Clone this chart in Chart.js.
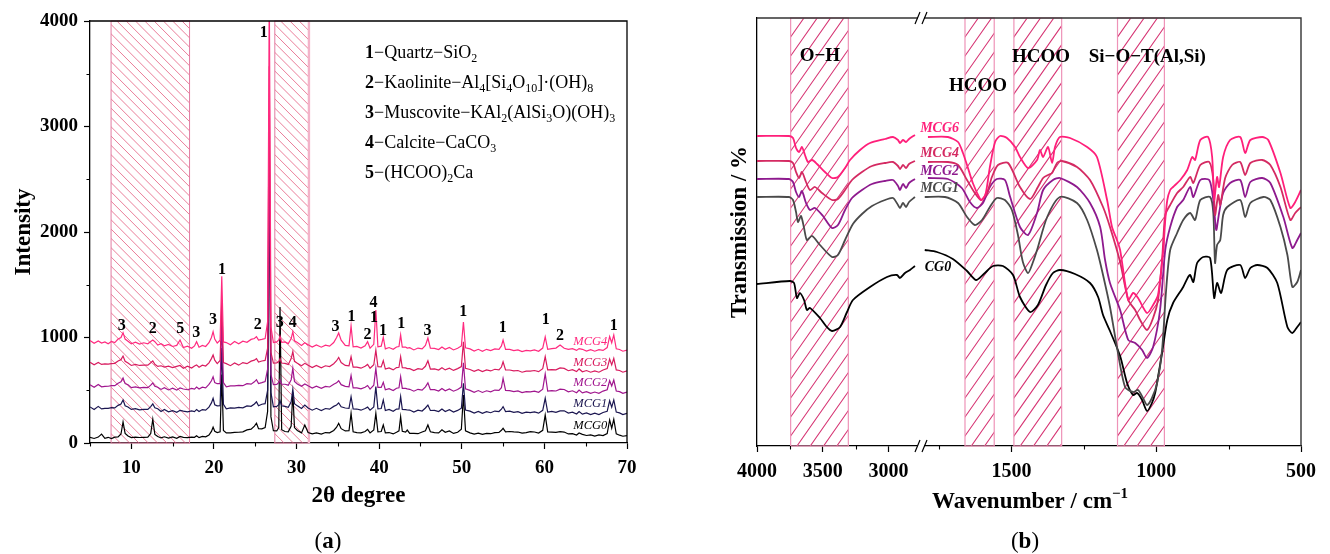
<!DOCTYPE html>
<html><head><meta charset="utf-8">
<script src="https://cdn.jsdelivr.net/npm/chart.js@4.4.1/dist/chart.umd.min.js"></script>
<style>
html,body{margin:0;padding:0;background:#fff;}
body{width:1330px;height:554px;overflow:hidden;position:relative;}
#ca{position:absolute;left:0;top:0;}
#cb{position:absolute;left:660px;top:0;}
</style></head>
<body>
<canvas id="ca" width="660" height="554"></canvas>
<canvas id="cb" width="670" height="554"></canvas>
<script>
// ---------------- (a) XRD data ----------------
const twoTheta = [
 5.0,5.5,6.0,6.4,6.8,7.2,7.6,8.0,8.4,8.75,9.0,9.25,9.6,10.0,
 10.5,11.0,11.5,12.0,12.35,12.6,12.85,13.2,13.6,14.0,14.5,15.0,
 15.5,15.9,16.3,16.8,17.3,17.65,17.9,18.2,18.6,19.0,19.4,19.7,19.9,20.1,
 20.4,20.75,20.95,21.15,21.5,22.0,22.5,23.0,23.5,24.0,24.5,24.9,25.15,25.4,
 25.8,26.2,26.5,26.7,26.9,27.2,27.6,27.85,28.0,28.2,28.6,29.0,29.35,29.55,29.75,30.1,
 30.6,31.0,31.4,31.9,32.4,33.0,33.5,34.0,34.5,34.85,35.1,35.4,
 35.9,36.35,36.6,36.85,37.3,37.8,38.3,38.6,38.9,39.35,39.6,39.85,40.25,40.5,40.75,
 41.2,41.7,42.1,42.4,42.6,42.8,43.2,43.4,43.7,44.2,44.7,45.2,45.6,45.9,46.2,
 46.7,47.2,47.6,48.0,48.5,49.0,49.5,49.95,50.2,50.45,51.0,51.5,52.0,52.5,53.0,53.5,54.0,54.5,54.8,55.0,55.3,
 55.8,56.3,56.8,57.3,57.8,58.3,58.8,59.3,59.8,60.1,60.4,60.9,61.4,61.9,62.4,
 62.9,63.4,63.9,64.2,64.6,65.1,65.6,66.1,66.6,67.1,67.6,67.9,68.15,68.4,68.7,69.1,69.5,70.0];
const mcg0 = [
 54,43,56,85,45,54,42,56,57,85,200,91,66,51,
 56,52,54,56,90,225,81,62,48,59,46,57,
 44,62,54,51,56,54,68,51,62,58,75,110,150,111,
 99,106,650,119,96,96,101,102,106,124,131,160,187,136,
 134,146,300,2860,250,116,114,146,1290,126,109,106,160,480,146,119,
 96,170,99,86,96,84,99,96,119,150,187,136,
 114,116,281,106,99,96,109,130,96,124,281,106,109,171,96,
 99,86,102,116,249,111,104,123,91,92,88,104,116,171,106,
 99,96,125,101,114,91,102,130,455,116,96,84,94,82,92,88,99,101,120,139,106,
 109,106,104,94,99,108,104,94,120,265,106,104,101,107,104,
 86,89,76,95,82,71,76,66,76,71,90,218,140,225,86,74,64,70];
const mcg1 = [
 342,318,347,323,329,328,335,333,357,370,408,353,342,318,
 325,315,319,318,345,370,333,325,298,317,295,307,
 291,310,302,295,305,298,318,298,317,311,340,380,424,363,
 352,353,900,367,323,332,331,337,333,352,348,370,390,353,
 367,373,500,2520,480,343,347,363,400,353,347,338,390,510,373,352,
 328,360,332,311,329,308,327,321,347,360,380,343,
 332,328,439,323,322,311,327,340,311,342,534,323,327,408,308,
 319,301,322,323,439,318,317,313,312,293,311,303,332,360,308,
 309,298,322,298,315,293,309,330,566,313,302,283,299,281,297,287,303,298,320,345,298,
 302,291,297,281,292,288,295,283,310,424,293,299,291,305,305,
 283,292,275,299,273,285,269,282,270,289,300,400,340,408,293,285,269,281];
const mcg2 = [
 552,528,555,533,537,538,543,543,567,580,616,563,552,525,
 532,523,527,525,548,569,538,529,508,525,503,519,
 501,522,512,505,517,511,530,511,529,523,555,590,628,573,
 562,563,1150,572,533,542,541,547,543,562,558,580,600,563,
 572,583,700,3000,650,553,555,573,600,558,557,548,600,708,583,559,
 538,560,542,521,539,518,537,531,557,570,590,553,
 537,533,640,523,522,513,529,545,511,547,708,528,527,575,505,
 515,498,519,523,629,518,517,513,509,491,509,501,532,570,505,
 505,493,517,495,512,491,507,530,760,513,499,481,497,479,495,485,502,498,525,613,498,
 497,487,493,477,487,485,492,481,510,654,493,497,493,510,507,
 485,495,477,502,475,487,471,483,471,492,505,590,540,597,493,487,471,483];
const mcg3 = [
 766,742,763,745,750,748,752,755,778,790,824,775,758,735,
 745,735,738,738,760,777,746,726,732,720,728,715,
 726,735,708,728,710,730,740,718,737,730,760,800,834,785,
 752,782,1350,762,752,733,758,738,762,752,776,785,800,768,
 777,783,900,3570,860,758,760,772,800,758,755,745,800,866,773,755,
 733,755,737,715,735,713,732,725,752,780,810,763,
 735,731,818,720,719,709,727,745,708,742,881,723,722,780,701,
 712,693,715,718,818,713,712,705,705,687,705,698,727,780,701,
 702,691,714,693,709,688,705,725,960,708,697,679,695,677,693,683,699,693,720,770,693,
 692,683,687,671,682,681,687,676,705,818,693,695,693,712,707,
 685,695,677,702,675,687,671,683,671,692,705,795,740,803,693,687,671,683];
const mcg4 = [
 972,945,968,948,958,940,962,952,985,1000,1046,985,965,940,
 955,938,950,940,962,976,960,928,942,922,935,915,
 925,976,905,918,898,920,960,908,925,915,950,1000,1055,985,
 948,975,1580,958,952,932,962,940,965,955,982,990,1008,975,
 982,990,1150,4300,1100,952,958,978,1014,955,958,942,990,1055,968,952,
 925,950,932,910,930,908,928,918,952,1000,1043,975,
 925,922,1109,912,915,900,922,960,898,935,1260,912,918,1002,892,
 905,888,910,915,1024,908,910,900,903,882,900,892,925,995,898,
 897,886,910,888,905,882,898,920,1147,902,892,872,888,870,888,876,892,888,920,976,888,
 887,876,882,866,878,874,882,870,900,1005,888,895,900,929,898,
 888,895,878,895,888,872,885,870,884,878,905,1010,950,1024,893,886,870,880];
const xrdNames = ['MCG4','MCG3','MCG2','MCG1','MCG0'];
const xrdValues = [mcg4, mcg3, mcg2, mcg1, mcg0];
const xrdColors = ['#ff2a7f','#d81b5f','#a0168e','#1b1650','#000000'];
const xrdNameX = 63.5;
const xrdNameY = [960, 761, 569, 370, 164];
const xTicksA = [5,10,15,20,25,30,35,40,45,50,55,60,65,70];
const xMajorA = [10,20,30,40,50,60,70];
const yTicksA = [0,500,1000,1500,2000,2500,3000,3500,4000];
const yMajorA = [0,1000,2000,3000,4000];
const xrdBands = [[7.55,17.05],[27.37,31.5]];
const peakLabelX = [8.85,12.61,15.92,17.86,19.89,20.98,25.3,26.03,27.97,29.55,34.73,36.64,38.58,39.31,39.38,40.47,42.66,45.86,50.18,54.96,60.18,61.88,68.39];
const peakLabelY = [1109,1078,1078,1040,1166,1640,1118,3883,1135,1135,1097,1197,1024,1324,1182,1064,1128,1062,1245,1087,1166,1017,1109];
const peakLabelText = ['3','2','5','3','3','1','2','1','3','4','3','1','2','4','1','1','1','3','1','1','1','2','1'];
const phaseLegend = [
 [['1','B'],['−Quartz−SiO','N'],['2','D']],
 [['2','B'],['−Kaolinite−Al','N'],['4','D'],['[Si','N'],['4','D'],['O','N'],['10','D'],[']·(OH)','N'],['8','D']],
 [['3','B'],['−Muscovite−KAl','N'],['2','D'],['(AlSi','N'],['3','D'],['O)(OH)','N'],['3','D']],
 [['4','B'],['−Calcite−CaCO','N'],['3','D']],
 [['5','B'],['−(HCOO)','N'],['2','D'],['Ca','N']]
];

// ---------------- (b) FTIR data (wavenumber, transmission a.u.) ----------------
const mcg6High = [[4000,310],[3756,310],[3726,308],[3703,298],[3680,294],[3658,299],[3635,291],[3612,284],[3581,286],[3543,282],[3483,274],[3429,268],[3384,269],[3330,278],[3292,286],[3216,296],[3140,303],[3026,307],[2965,309],[2927,306],[2912,303],[2889,306],[2866,304],[2843,307],[2798,311]];
const mcg6Low = [[1789,309],[1720,309],[1685,304],[1668,293],[1654,281],[1634,263],[1609,247],[1602,246],[1589,253],[1575,279],[1557,304],[1540,310],[1516,308],[1488,299],[1471,289],[1443,278],[1412,286],[1402,296],[1391,289],[1374,299],[1360,283],[1350,299],[1333,309],[1298,308],[1239,299],[1205,289],[1170,246],[1153,219],[1136,206],[1125,196],[1097,146],[1080,153],[1063,148],[1032,133],[1011,141],[994,151],[976,196],[969,226],[962,246],[952,256],[942,259],[917,266],[893,276],[876,289],[866,286],[848,306],[821,309],[807,289],[800,246],[790,269],[783,259],[769,289],[745,306],[710,309],[693,293],[675,306],[634,309],[613,306],[571,273],[537,238],[520,244],[500,256]];
const mcg4High = [[4000,285],[3756,285],[3726,283],[3703,274],[3680,268],[3658,274],[3627,264],[3597,256],[3559,259],[3505,253],[3429,246],[3384,247],[3330,256],[3277,266],[3201,274],[3125,280],[3026,283],[2965,284],[2927,280],[2912,277],[2889,281],[2866,278],[2843,282],[2798,285]];
const mcg4Low = [[1789,284],[1720,284],[1685,281],[1654,266],[1627,253],[1606,246],[1585,253],[1568,269],[1547,281],[1512,283],[1471,259],[1436,247],[1409,259],[1391,268],[1374,271],[1360,273],[1343,283],[1326,285],[1274,279],[1229,266],[1184,239],[1160,219],[1125,184],[1097,146],[1073,136],[1056,126],[1032,116],[1011,128],[994,146],[980,186],[969,231],[952,241],[928,253],[907,259],[883,269],[872,263],[848,281],[817,284],[803,266],[797,231],[786,251],[779,241],[762,268],[738,281],[710,284],[693,271],[675,283],[634,286],[606,281],[571,259],[537,226],[520,233],[500,239]];
const mcg2High = [[4000,267],[3756,267],[3726,264],[3703,254],[3680,249],[3658,255],[3627,243],[3597,236],[3559,238],[3498,230],[3429,218],[3384,221],[3330,236],[3277,248],[3201,256],[3125,262],[3026,265],[2965,266],[2927,260],[2912,256],[2889,262],[2866,258],[2843,263],[2798,267]];
const mcg2Low = [[1789,268],[1720,267],[1672,258],[1644,244],[1620,238],[1599,243],[1575,259],[1551,267],[1523,266],[1506,250],[1471,219],[1443,211],[1412,233],[1391,256],[1357,266],[1333,268],[1274,259],[1229,243],[1194,219],[1177,186],[1160,163],[1125,136],[1097,106],[1073,103],[1049,96],[1032,88],[1011,99],[987,136],[969,196],[952,219],[928,239],[907,246],[883,259],[872,249],[848,266],[817,266],[803,246],[793,216],[783,233],[769,253],[745,263],[710,266],[693,249],[675,264],[634,268],[606,263],[561,229],[530,198],[513,206],[500,213]];
const mcg1High = [[4000,249],[3756,249],[3726,246],[3703,234],[3688,224],[3665,230],[3642,218],[3620,206],[3581,210],[3521,201],[3429,189],[3384,191],[3330,206],[3270,222],[3201,232],[3125,240],[3026,246],[2965,248],[2927,241],[2912,238],[2889,243],[2866,239],[2843,244],[2798,249]];
const mcg1Low = [[1800,249],[1730,249],[1685,243],[1654,229],[1627,221],[1602,226],[1575,239],[1551,248],[1523,246],[1499,236],[1478,211],[1461,184],[1443,173],[1426,184],[1412,196],[1377,229],[1333,249],[1274,243],[1239,226],[1205,196],[1184,171],[1160,139],[1136,99],[1108,59],[1080,54],[1063,56],[1046,48],[1032,41],[1015,48],[997,63],[980,96],[966,156],[952,196],[928,213],[907,226],[883,233],[866,226],[848,246],[814,249],[803,233],[797,183],[790,201],[779,206],[769,231],[755,239],[710,246],[693,229],[675,243],[630,249],[606,246],[571,219],[547,191],[530,159],[513,164],[500,176]];
const cg0High = [[4000,162],[3749,165],[3718,163],[3696,148],[3673,153],[3642,146],[3620,136],[3597,138],[3521,128],[3475,120],[3429,115],[3368,119],[3315,134],[3270,146],[3140,159],[3011,169],[2935,171],[2912,168],[2874,173],[2836,176],[2798,180]];
const cg0Low = [[1800,196],[1758,194],[1703,187],[1654,175],[1623,166],[1596,172],[1564,180],[1530,180],[1495,171],[1471,149],[1436,134],[1409,141],[1381,161],[1357,173],[1333,176],[1281,172],[1229,163],[1201,149],[1184,131],[1160,115],[1125,90],[1101,63],[1080,51],[1066,53],[1049,46],[1032,35],[1015,43],[1004,53],[994,69],[980,93],[962,126],[942,143],[907,159],[890,169],[883,171],[872,164],[859,183],[838,189],[814,188],[800,148],[790,163],[776,153],[755,176],[710,181],[693,168],[675,178],[651,181],[616,178],[582,163],[547,119],[530,113],[513,119],[500,124]];
const ftirNames = ['MCG6','MCG4','MCG2','MCG1','CG0'];
const ftirHigh = [mcg6High, mcg4High, mcg2High, mcg1High, cg0High];
const ftirLow = [mcg6Low, mcg4Low, mcg2Low, mcg1Low, cg0Low];
const ftirColors = ['#ff1f7a','#d42a62','#8e1a8e','#4a4a4a','#000000'];
const ftirNameX = [1816,1816,1816,1816,1800];
const ftirNameY = [318,293,275,258,179];
const xTicksHigh = [4000,3750,3500,3250,3000];
const xTicksLow = [1750,1500,1250,1000,750,500];
const xMajorB = [4000,3500,3000,1500,1000,500];
const bandsHigh = [[3744,3305]];
const bandsLow = [[1661,1560],[1492,1327],[1134,972]];
const bandLabelText = ['O−H','HCOO','HCOO','Si−O−T(Al,Si)'];
const bandLabelAxis = ['xa','xb','xb','xb'];
const bandLabelX = [3521,1616,1398,1031];
const bandLabelY = [390,360,389,389];

// ---------------- helpers ----------------
const FAM = "'Liberation Serif','Times New Roman',serif";
Chart.defaults.font.family = FAM;
Chart.defaults.color = '#000';

function rich(ctx, x, y, parts, size, align, color){
  const f = k => (k.includes('I')?'italic ':'') + (k.includes('B')?'bold ':'') +
    ((k.includes('D')||k.includes('U')) ? Math.round(size*0.64) : size) + 'px ' + FAM;
  let w = 0;
  for (const [t,k] of parts){ ctx.font = f(k); w += ctx.measureText(t).width; }
  let cx = align==='center' ? x - w/2 : (align==='right' ? x - w : x);
  ctx.fillStyle = color || '#000'; ctx.textAlign = 'left'; ctx.textBaseline = 'alphabetic';
  for (const [t,k] of parts){
    ctx.font = f(k);
    const dy = k.includes('D') ? size*0.24 : (k.includes('U') ? -size*0.42 : 0);
    ctx.fillText(t, cx, y + dy);
    cx += ctx.measureText(t).width;
  }
}
function hatch(ctx, x0, x1, y0, y1, step, dir, k, color, lw){
  const h = y1 - y0, span = h * k;
  ctx.save(); ctx.beginPath(); ctx.rect(x0, y0, x1 - x0, y1 - y0); ctx.clip();
  ctx.strokeStyle = color; ctx.lineWidth = lw; ctx.beginPath();
  for (let s = x0 - span - step; s <= x1 + step; s += step){
    if (dir < 0){ ctx.moveTo(s, y0); ctx.lineTo(s + span, y1); }
    else { ctx.moveTo(s, y1); ctx.lineTo(s + span, y0); }
  }
  ctx.stroke(); ctx.restore();
}
function minorTicks(ctx, scale, values, horizontal, len){
  ctx.save(); ctx.strokeStyle = '#000'; ctx.lineWidth = 1.1; ctx.beginPath();
  for (const v of values){
    const p = Math.round(scale.getPixelForValue(v)) + 0.5;
    if (horizontal){ ctx.moveTo(p, scale.top); ctx.lineTo(p, scale.top + len); }
    else { ctx.moveTo(scale.right, p); ctx.lineTo(scale.right - len, p); }
  }
  ctx.stroke(); ctx.restore();
}

// ---------------- chart (a) ----------------
const plugA = {
  id: 'plugA',
  beforeDatasetsDraw(chart){
    const {ctx, chartArea: a, scales: {x}} = chart;
    xrdBands.forEach(([b0, b1], i) => {
      const x0 = x.getPixelForValue(b0), x1 = x.getPixelForValue(b1);
      hatch(ctx, x0, x1, a.top, a.bottom, 9.3, -1, 1, 'rgba(222,50,95,0.8)', 0.8);
      ctx.save(); ctx.strokeStyle = '#e27ca2'; ctx.lineWidth = 1;
      ctx.strokeRect(x0, a.top, x1 - x0, a.bottom - a.top);
      if (i === 1){ ctx.strokeStyle = '#f3b3c9'; ctx.lineWidth = 2.4; ctx.beginPath(); ctx.moveTo(x1, a.top); ctx.lineTo(x1, a.bottom); ctx.stroke(); }
      ctx.restore();
    });
  },
  afterDraw(chart){
    const {ctx, chartArea: a, scales: {x, y}} = chart;
    ctx.save();
    ctx.strokeStyle = '#000'; ctx.lineWidth = 1.3; ctx.beginPath();
    ctx.moveTo(a.left, a.top); ctx.lineTo(a.right, a.top); ctx.lineTo(a.right, a.bottom); ctx.stroke();
    minorTicks(ctx, x, xTicksA.filter(v => !xMajorA.includes(v)), true, 3.5);
    minorTicks(ctx, y, yTicksA.filter(v => !yMajorA.includes(v)), false, 3.5);
    ctx.font = 'bold 16px ' + FAM; ctx.fillStyle = '#000'; ctx.textAlign = 'center'; ctx.textBaseline = 'middle';
    peakLabelText.forEach((t, i) => ctx.fillText(t, x.getPixelForValue(peakLabelX[i]), y.getPixelForValue(peakLabelY[i])));
    ctx.font = 'italic 12.5px ' + FAM; ctx.textAlign = 'left';
    xrdNames.forEach((n, i) => { ctx.fillStyle = xrdColors[i]; ctx.fillText(n, x.getPixelForValue(xrdNameX), y.getPixelForValue(xrdNameY[i])); });
    phaseLegend.forEach((parts, i) => rich(ctx, 365, 58 + i * 30, parts, 18, 'left', '#000'));
    ctx.fillStyle = '#000'; ctx.textAlign = 'center'; ctx.textBaseline = 'middle';
    ctx.font = 'bold 23px ' + FAM; ctx.fillText('2θ degree', (a.left + a.right) / 2, 496);
    ctx.save(); ctx.translate(24, (a.top + a.bottom) / 2); ctx.rotate(-Math.PI / 2);
    ctx.fillText('Intensity', 0, 0); ctx.restore();
    rich(ctx, 328, 548, [['(','N'],['a','B'],[')','N']], 23, 'center', '#000');
    ctx.restore();
  }
};

new Chart(document.getElementById('ca'), {
  type: 'line',
  data: { datasets: xrdNames.map((n, i) => ({
    label: n, data: twoTheta.map((t, j) => ({x: t, y: xrdValues[i][j]})),
    borderColor: xrdColors[i], borderWidth: 1.2, pointRadius: 0, tension: 0, fill: false })) },
  options: {
    responsive: false, animation: false, devicePixelRatio: 1,
    layout: { padding: { left: 0, top: 21, right: 33, bottom: 61 } },
    plugins: { legend: { display: false }, tooltip: { enabled: false } },
    scales: {
      x: { type: 'linear', min: 5, max: 70,
        afterBuildTicks: s => { s.ticks = xTicksA.map(v => ({value: v})); },
        afterFit: s => { s.height = 50; },
        ticks: { autoSkip: false, maxRotation: 0, padding: 8, color: '#000', font: { size: 19, weight: 'bold' },
          callback: v => xMajorA.includes(v) ? String(v) : '' },
        grid: { drawOnChartArea: false, drawTicks: true, tickLength: 6, tickWidth: 1.2,
          tickColor: c => (c.tick && xMajorA.includes(c.tick.value)) ? '#000' : 'rgba(0,0,0,0)' },
        border: { display: true, color: '#000', width: 1.3 } },
      y: { type: 'linear', min: 0, max: 4000,
        afterBuildTicks: s => { s.ticks = yTicksA.map(v => ({value: v})); },
        afterFit: s => { s.width = 90; },
        ticks: { autoSkip: false, padding: 6, color: '#000', font: { size: 19, weight: 'bold' },
          callback: v => yMajorA.includes(v) ? String(v) : '' },
        grid: { drawOnChartArea: false, drawTicks: true, tickLength: 6, tickWidth: 1.2,
          tickColor: c => (c.tick && yMajorA.includes(c.tick.value)) ? '#000' : 'rgba(0,0,0,0)' },
        border: { display: true, color: '#000', width: 1.3 } }
    }
  },
  plugins: [plugA]
});

// ---------------- chart (b) ----------------
const plugB = {
  id: 'plugB',
  beforeDatasetsDraw(chart){
    const {ctx, chartArea: a, scales: {xa, xb}} = chart;
    const draw = (sc, b0, b1) => {
      const x0 = sc.getPixelForValue(b0), x1 = sc.getPixelForValue(b1);
      hatch(ctx, x0, x1, a.top, a.bottom, 13.3, 1, 0.7, 'rgba(210,30,100,0.9)', 1.1);
      ctx.save(); ctx.strokeStyle = '#ee93b8'; ctx.lineWidth = 1.2;
      ctx.strokeRect(x0, a.top, x1 - x0, a.bottom - a.top); ctx.restore();
    };
    bandsHigh.forEach(([b0, b1]) => draw(xa, b0, b1));
    bandsLow.forEach(([b0, b1]) => draw(xb, b0, b1));
  },
  afterDraw(chart){
    const {ctx, chartArea: a, scales: {xa, xb, y}} = chart;
    ctx.save();
    ctx.strokeStyle = '#333'; ctx.lineWidth = 1.4; ctx.beginPath();
    ctx.moveTo(a.left, a.top); ctx.lineTo(a.right, a.top); ctx.lineTo(a.right, a.bottom); ctx.stroke();
    minorTicks(ctx, xa, xTicksHigh.filter(v => !xMajorB.includes(v)), true, 3.5);
    minorTicks(ctx, xb, xTicksLow.filter(v => !xMajorB.includes(v)), true, 3.5);
    const bx = xb.left;
    [a.top, a.bottom].forEach(yy => {
      ctx.fillStyle = '#fff'; ctx.fillRect(bx - 3, yy - 2, 6, 4);
      ctx.strokeStyle = '#000'; ctx.lineWidth = 1.2; ctx.beginPath();
      ctx.moveTo(bx - 6, yy + 6); ctx.lineTo(bx - 1, yy - 6);
      ctx.moveTo(bx + 1, yy + 6); ctx.lineTo(bx + 6, yy - 6);
      ctx.stroke();
    });
    ctx.font = 'bold 19px ' + FAM; ctx.fillStyle = '#000'; ctx.textAlign = 'center'; ctx.textBaseline = 'middle';
    bandLabelText.forEach((t, i) => {
      const sc = bandLabelAxis[i] === 'xa' ? xa : xb;
      ctx.fillText(t, sc.getPixelForValue(bandLabelX[i]), y.getPixelForValue(bandLabelY[i]));
    });
    ctx.font = 'italic bold 14px ' + FAM; ctx.textAlign = 'left';
    ftirNames.forEach((n, i) => { ctx.fillStyle = ftirColors[i]; ctx.fillText(n, xb.getPixelForValue(ftirNameX[i]), y.getPixelForValue(ftirNameY[i])); });
    ctx.fillStyle = '#000'; ctx.textAlign = 'center';
    ctx.font = 'bold 23px ' + FAM;
    ctx.save(); ctx.translate(80, (a.top + a.bottom) / 2); ctx.rotate(-Math.PI / 2);
    ctx.fillText('Transmission / %', 0, 0); ctx.restore();
    rich(ctx, 370, 508, [['Wavenumber / cm','B'],['−1','BU']], 23, 'center', '#000');
    rich(ctx, 365, 548, [['(','N'],['b','B'],[')','N']], 23, 'center', '#000');
    ctx.restore();
  }
};

const ftirSets = [];
ftirNames.forEach((n, i) => {
  ftirSets.push({ label: n + ' high', xAxisID: 'xa', yAxisID: 'y', data: ftirHigh[i].map(p => ({x: p[0], y: p[1]})),
    borderColor: ftirColors[i], borderWidth: 1.8, pointRadius: 0, tension: 0.25, fill: false });
  ftirSets.push({ label: n + ' low', xAxisID: 'xb', yAxisID: 'y', data: ftirLow[i].map(p => ({x: p[0], y: p[1]})),
    borderColor: ftirColors[i], borderWidth: 1.8, pointRadius: 0, tension: 0.25, fill: false });
});

const tickStyle = { autoSkip: false, maxRotation: 0, padding: 8, color: '#000', font: { size: 20, weight: 'bold' },
  callback: v => xMajorB.includes(v) ? String(v) : '' };
const gridStyle = { drawOnChartArea: false, drawTicks: true, tickLength: 6, tickWidth: 1.2,
  tickColor: c => (c.tick && xMajorB.includes(c.tick.value)) ? '#000' : 'rgba(0,0,0,0)' };

new Chart(document.getElementById('cb'), {
  type: 'line',
  data: { datasets: ftirSets },
  options: {
    responsive: false, animation: false, devicePixelRatio: 1,
    layout: { padding: { left: 0, top: 18, right: 29, bottom: 58 } },
    plugins: { legend: { display: false }, tooltip: { enabled: false } },
    scales: {
      xa: { type: 'linear', position: 'bottom', stack: 'wn', stackWeight: 164, min: 2752, max: 4000, reverse: true,
        afterBuildTicks: s => { s.ticks = xTicksHigh.map(v => ({value: v})); },
        afterFit: s => { s.height = 50; },
        ticks: tickStyle, grid: gridStyle, border: { display: true, color: '#000', width: 1.3 } },
      xb: { type: 'linear', position: 'bottom', stack: 'wn', stackWeight: 380, min: 500, max: 1813, reverse: true,
        afterBuildTicks: s => { s.ticks = xTicksLow.map(v => ({value: v})); },
        afterFit: s => { s.height = 50; },
        ticks: tickStyle, grid: gridStyle, border: { display: true, color: '#000', width: 1.3 } },
      y: { type: 'linear', position: 'left', min: 0, max: 428,
        afterFit: s => { s.width = 97; },
        ticks: { display: false }, grid: { display: false, drawTicks: false },
        border: { display: true, color: '#000', width: 1.3 } }
    }
  },
  plugins: [plugB]
});
</script>
</body></html>
